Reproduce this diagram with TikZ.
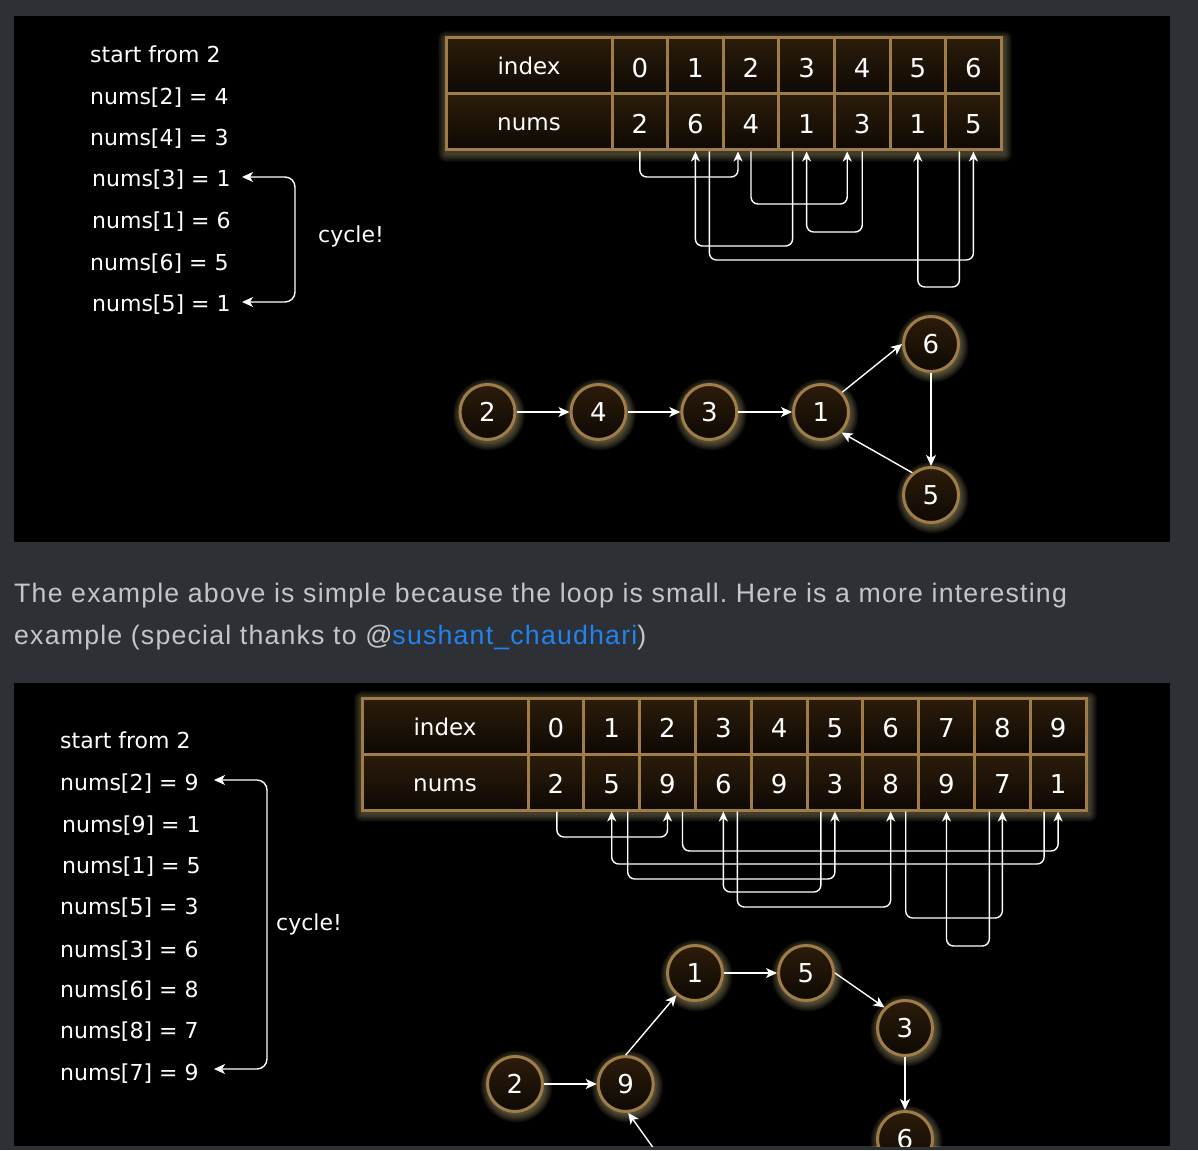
\documentclass[tikz,border=0pt]{standalone}
\usepackage{fontspec}
\newfontfamily\comic{DejaVu Sans}
\newfontfamily\para[LetterSpace=4.5]{Liberation Sans}
\usetikzlibrary{arrows.meta}
\pgfdeclarelayer{bgl}
\pgfdeclarelayer{glowl}
\pgfsetlayers{bgl,glowl,main}
\definecolor{pagebg}{HTML}{2D3035}
\definecolor{tanb}{HTML}{A07C48}
\definecolor{celltop}{HTML}{2C1C0A}
\definecolor{cellbot}{HTML}{0E0904}
\definecolor{glowc}{HTML}{E6D49A}
\definecolor{paratext}{HTML}{C3C5C8}
\definecolor{linkc}{HTML}{2183EE}
\newcommand\idxarrow[5]{\draw[tarr] ([xshift=#2pt]#1.south) -- ++(0,#5) -| ([xshift=#4pt]#3.south);}
\newcommand\nodeglow[1]{\foreach \r in {28,29,...,36} {\fill[glowc,opacity=0.05] ([xshift=1.5pt,yshift=-2.5pt]#1.center) circle[radius=\r pt];}}
\newcommand\tableglow[2]{\foreach \d in {1,2,...,8} {\fill[glowc,opacity=0.045,rounded corners=\d pt]
  ([xshift={-\d pt+1.5pt},yshift={\d pt-2.5pt}]#1.north west) rectangle ([xshift={\d pt+1.5pt},yshift={-\d pt-2.5pt}]#2.south east);}}
\begin{document}
\frenchspacing
\begin{tikzpicture}[x=1pt,y=-1pt,
  cellbox/.style={draw=tanb, line width=3pt, top color=celltop, bottom color=cellbot,
    minimum height=56pt, inner sep=0pt, text=white, font=\comic\fontsize{26}{26}\selectfont,
    text height=25pt, text depth=2pt},
  numcell/.style={cellbox, minimum width=55.6pt},
  numcellb/.style={cellbox, minimum width=55.8pt},
  labcell/.style={cellbox, minimum width=166pt, font=\comic\fontsize{23}{23}\selectfont,
    text height=19pt, text depth=1pt},
  tarr/.style={draw=white, line width=1.4pt, rounded corners=7pt,
    -{Stealth[length=10pt,width=9pt,inset=3pt]}},
  gnode/.style={circle, draw=tanb, line width=3pt, minimum size=55pt, inner sep=0pt,
    top color=celltop, bottom color=cellbot, text=white,
    font=\comic\fontsize{26}{26}\selectfont},
  garr/.style={draw=white, line width=1.4pt, -{Stealth[length=11pt,width=10pt,inset=3pt]}},
  barr/.style={draw=white, line width=1.4pt, rounded corners=10pt,
    {Stealth[length=11pt,width=10pt,inset=3pt]}-{Stealth[length=11pt,width=10pt,inset=3pt]}},
  lbl/.style={anchor=base west, inner sep=0pt, text=white, font=\comic\fontsize{22}{22}\selectfont},
  paranode/.style={anchor=base west, inner sep=0pt, text=paratext, font=\para\fontsize{26.7}{26.7}\selectfont}
]
\useasboundingbox (0,0) rectangle (1198,1150);
\begin{pgfonlayer}{bgl}
\fill[pagebg] (0,0) rectangle (1198,1150);
\fill[black] (14,16) rectangle (1170,542);
\fill[black] (14,683) rectangle (1170,1146);
\end{pgfonlayer}

% ---------- panel 1: left text ----------
\node[lbl] (p1a) at (90,63) {start from 2};
\node[lbl] (p1b) at (90,104.5) {nums[2] = 4};
\node[lbl] (p1c) at (90,146) {nums[4] = 3};
\node[lbl] (p1d) at (92,187) {nums[3] = 1};
\node[lbl] (p1e) at (92,228.5) {nums[1] = 6};
\node[lbl] (p1f) at (90,270) {nums[6] = 5};
\node[lbl] (p1g) at (92,311) {nums[5] = 1};
\node[lbl] (cy1) at (318,243) {cycle!};
\coordinate (bt1) at (242,177);
\coordinate (bb1) at (242,302);
\draw[barr] (bt1) -- (295,177) -- (295,302) -- (bb1);

% ---------- panel 1: table ----------
\node[labcell] (ia) at (529,66) {index};
\node[labcell] (na) at (529,122) {nums};
\foreach \i/\v in {0/2,1/6,2/4,3/1,4/3,5/1,6/5} {
  \node[numcell] (ia\i) at ({612+55.6*(\i+0.5)},66) {\i};
  \node[numcell] (na\i) at ({612+55.6*(\i+0.5)},122) {\v};
}
\begin{pgfonlayer}{glowl}
\tableglow{ia}{na6}
\end{pgfonlayer}
\idxarrow{na0}{0}{na2}{-13}{25.5}
\idxarrow{na2}{0}{na4}{-15}{52.5}
\idxarrow{na4}{0}{na3}{0}{80.5}
\idxarrow{na3}{-14}{na1}{0}{94.5}
\idxarrow{na1}{14}{na6}{0}{108.5}
\idxarrow{na6}{-14}{na5}{0}{135.5}

% ---------- panel 1: graph ----------
\node[gnode] (g2) at (487.5,412) {2};
\node[gnode] (g4) at (598.5,412) {4};
\node[gnode] (g3) at (709.3,412) {3};
\node[gnode] (g1) at (821,412) {1};
\node[gnode] (g6) at (931,344) {6};
\node[gnode] (g5) at (931,495) {5};
\begin{pgfonlayer}{glowl}
\nodeglow{g2}\nodeglow{g4}\nodeglow{g3}\nodeglow{g1}\nodeglow{g6}\nodeglow{g5}
\end{pgfonlayer}
\draw[garr] (g2) -- (g4);
\draw[garr] (g4) -- (g3);
\draw[garr] (g3) -- (g1);
\draw[garr] (g1.43) -- (g6.west);
\draw[garr] (g6) -- (g5);
\draw[garr] (g5.130) -- (g1.-45);

% ---------- paragraph ----------
\node[paranode] (para1) at (14,602) {The example above is simple because the loop is small. Here is a more interesting};
\node[paranode] (para2) at (14,644) {example (special thanks to @\textcolor{linkc}{sushant\_chaudhari})};

% ---------- panel 2: left text ----------
\node[lbl] (p2a) at (60,748) {start from 2};
\node[lbl] (p2b) at (60,790) {nums[2] = 9};
\node[lbl] (p2c) at (62,832) {nums[9] = 1};
\node[lbl] (p2d) at (62,873) {nums[1] = 5};
\node[lbl] (p2e) at (60,914) {nums[5] = 3};
\node[lbl] (p2f) at (60,957) {nums[3] = 6};
\node[lbl] (p2g) at (60,997) {nums[6] = 8};
\node[lbl] (p2h) at (60,1038) {nums[8] = 7};
\node[lbl] (p2i) at (60,1080) {nums[7] = 9};
\node[lbl] (cy2) at (276,930) {cycle!};
\coordinate (bt2) at (214,780);
\coordinate (bb2) at (214,1069);
\draw[barr] (bt2) -- (267,780) -- (267,1069) -- (bb2);

% ---------- panel 2: table ----------
\node[labcell] (ib) at (445,726) {index};
\node[labcell] (nb) at (445,782) {nums};
\foreach \i/\v in {0/2,1/5,2/9,3/6,4/9,5/3,6/8,7/9,8/7,9/1} {
  \node[numcellb] (ib\i) at ({528+55.8*(\i+0.5)},726) {\i};
  \node[numcellb] (nb\i) at ({528+55.8*(\i+0.5)},782) {\v};
}
\begin{pgfonlayer}{glowl}
\tableglow{ib}{nb9}
\end{pgfonlayer}
\idxarrow{nb0}{1}{nb2}{0}{25.5}
\idxarrow{nb2}{15}{nb9}{0}{39.5}
\idxarrow{nb9}{-14}{nb1}{0}{52.5}
\idxarrow{nb1}{16}{nb5}{0}{67.5}
\idxarrow{nb5}{-14}{nb3}{0}{80.5}
\idxarrow{nb3}{14}{nb6}{0}{95.5}
\idxarrow{nb6}{15}{nb8}{0}{106.5}
\idxarrow{nb8}{-13}{nb7}{0}{134.5}

% ---------- panel 2: graph (clipped) ----------
\begin{scope}
\clip (14,683) rectangle (1170,1146);
\node[gnode] (h2) at (515,1084) {2};
\node[gnode] (h9) at (625.7,1084) {9};
\node[gnode] (h1) at (695,973) {1};
\node[gnode] (h5) at (806,973) {5};
\node[gnode] (h3) at (905,1028) {3};
\node[gnode] (h6) at (905,1139) {6};
\coordinate (c7) at (677,1181);
\draw[garr] (h2) -- (h9);
\draw[garr] (h9.north) -- (h1.-130);
\draw[garr] (h1) -- (h5);
\draw[garr] (h5.east) -- (h3.135);
\draw[garr] (h3) -- (h6);
\draw[garr] (c7) -- (h9.-85);
\end{scope}
\begin{pgfonlayer}{glowl}
\begin{scope}
\clip (14,683) rectangle (1170,1146);
\nodeglow{h2}\nodeglow{h9}\nodeglow{h1}\nodeglow{h5}\nodeglow{h3}\nodeglow{h6}
\end{scope}
\end{pgfonlayer}
\end{tikzpicture}
\end{document}
